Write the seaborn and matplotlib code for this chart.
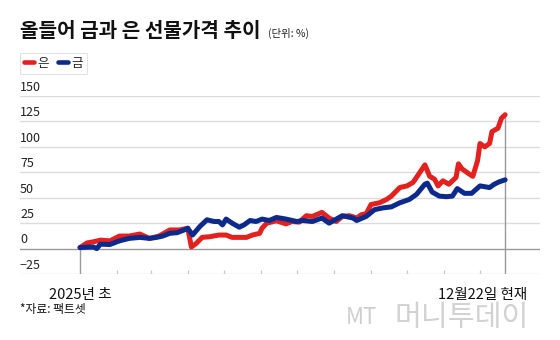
import pandas as pd
import matplotlib
matplotlib.use("Agg")
import matplotlib.pyplot as plt
import seaborn as sns

# ---- data (% change since start of 2025) ----
silver_dates = ["2025-01-01", "2025-01-07", "2025-01-12", "2025-01-18", "2025-01-26",
                "2025-02-03", "2025-02-11", "2025-02-20", "2025-02-28", "2025-03-08",
                "2025-03-17", "2025-03-25", "2025-04-01", "2025-04-04", "2025-04-08",
                "2025-04-13", "2025-04-19", "2025-04-27", "2025-05-03", "2025-05-08",
                "2025-05-14", "2025-05-20", "2025-05-25", "2025-05-31", "2025-06-02",
                "2025-06-06", "2025-06-14", "2025-06-22", "2025-06-27", "2025-07-03",
                "2025-07-09", "2025-07-14", "2025-07-22", "2025-07-28", "2025-08-03",
                "2025-08-08", "2025-08-14", "2025-08-20", "2025-08-24", "2025-08-28",
                "2025-09-01", "2025-09-08", "2025-09-14", "2025-09-18", "2025-09-25",
                "2025-10-01", "2025-10-06", "2025-10-09", "2025-10-16", "2025-10-20",
                "2025-10-24", "2025-10-27", "2025-10-31", "2025-11-05", "2025-11-11",
                "2025-11-13", "2025-11-16", "2025-11-22", "2025-11-25", "2025-11-29",
                "2025-12-01", "2025-12-05", "2025-12-09", "2025-12-11", "2025-12-16",
                "2025-12-19", "2025-12-22"]
silver_values = [1, 5.6, 6.6, 8.3, 7.6,
                 12.3, 12.3, 14.3, 10, 12.3,
                 18.3, 18.3, 20, 1.6, 5,
                 11, 11.6, 13.3, 13.3, 11,
                 11, 11, 13.3, 15, 20,
                 25, 27.3, 24.3, 26.6, 26,
                 32.3, 31.6, 35.6, 30, 26.6,
                 31.6, 32.3, 30, 33.3, 34.3,
                 43.3, 45, 48.3, 51.6, 60,
                 61.6, 65, 70, 82.3, 71,
                 68.3, 61.6, 66.6, 63.3, 70,
                 83.3, 78.3, 73.3, 71, 86.6,
                 103.3, 100, 103.3, 115, 118.3,
                 128.3, 131.6]

gold_dates = ["2025-01-01", "2025-01-12", "2025-01-15", "2025-01-18", "2025-01-26",
              "2025-02-03", "2025-02-11", "2025-02-20", "2025-02-28", "2025-03-06",
              "2025-03-11", "2025-03-17", "2025-03-23", "2025-03-29", "2025-04-01",
              "2025-04-05", "2025-04-11", "2025-04-17", "2025-04-23", "2025-04-27",
              "2025-04-30", "2025-05-03", "2025-05-08", "2025-05-14", "2025-05-18",
              "2025-05-23", "2025-05-28", "2025-06-02", "2025-06-08", "2025-06-14",
              "2025-06-22", "2025-07-01", "2025-07-06", "2025-07-14", "2025-07-22",
              "2025-07-28", "2025-08-08", "2025-08-17", "2025-08-20", "2025-08-28",
              "2025-09-04", "2025-09-11", "2025-09-18", "2025-09-25", "2025-10-03",
              "2025-10-09", "2025-10-16", "2025-10-18", "2025-10-22", "2025-10-28",
              "2025-11-03", "2025-11-08", "2025-11-12", "2025-11-18", "2025-11-24",
              "2025-12-01", "2025-12-09", "2025-12-13", "2025-12-17", "2025-12-22"]
gold_values = [1, 1.6, 0, 4.3, 4,
               7.6, 10, 11, 10, 11,
               12.3, 15, 15.6, 18.3, 20,
               13.3, 21.6, 28.3, 26.6, 26.6,
               23.3, 29, 25, 21, 23.3,
               27.6, 26.6, 29, 27.6, 30.6,
               29, 26.6, 27.6, 26.6, 30,
               25, 32.3, 30, 27.6, 31.6,
               38.3, 40, 41, 45, 48.3,
               53.3, 63.3, 64.3, 55.6, 51.6,
               51, 51.6, 59, 54.3, 54.3,
               61.6, 60, 63.3, 65.6, 67.6]

series_names = ["은", "금"]
series_colors = ["#e3211f", "#0c2a8c"]
y_ticks = [-25, 0, 25, 50, 75, 100, 125, 150]
y_tick_labels = ["\u221225", "0", "25", "50", "75", "100", "125", "150"]
x_labels = ["2025년 초", "12월22일 현재"]

title = "올들어 금과 은 선물가격 추이"
unit = "(단위: %)"
source = "*자료: 팩트셋"

# ---- build long table ----
df = pd.concat([
    pd.DataFrame({"date": pd.to_datetime(silver_dates), "value": silver_values, "series": series_names[0]}),
    pd.DataFrame({"date": pd.to_datetime(gold_dates), "value": gold_values, "series": series_names[1]}),
], ignore_index=True)

sns.set_theme(style="white")
plt.rcParams["font.family"] = ["Noto Sans CJK KR", "DejaVu Sans"]
plt.rcParams["axes.unicode_minus"] = True

W, H = 560, 340
fig = plt.figure(figsize=(W / 100, H / 100), dpi=100)
fig.patch.set_facecolor("white")
# plot area spans the full width of the gridlines
ax = fig.add_axes([20 / W, 1 - 274 / H, 520 / W, 178 / H])
ax.set_facecolor("white")

start = pd.Timestamp("2025-01-01")
end = pd.Timestamp("2025-12-22")
ax.set_xlim(start - pd.Timedelta(days=50.1), start + pd.Timedelta(days=384.1))
ax.set_ylim(-25, 150)

# gridlines
for v in y_ticks:
    ax.axhline(v, color="#999999" if v == 0 else "#dcdcdc", lw=1.0, zorder=1)

# month ticks along the bottom
month_starts = pd.date_range("2025-02-01", "2025-12-01", freq="MS")
ax.vlines(month_starts, -25, -21, color="#c8c8c8", lw=0.9, zorder=1)
ax.vlines([start], -25, 0, color="#999999", lw=1.0, zorder=1)
ax.vlines([end], -25, silver_values[-1], color="#999999", lw=1.0, zorder=1)

sns.lineplot(data=df, x="date", y="value", hue="series", hue_order=series_names,
             palette=series_colors, linewidth=3.6, legend=False, ax=ax, zorder=3,
             solid_capstyle="round", solid_joinstyle="round", estimator=None)

# y labels sit just above each gridline at the left edge
for v, lab in zip(y_ticks, y_tick_labels):
    ax.annotate(lab, xy=(0, v), xycoords=ax.get_yaxis_transform(),
                xytext=(0, 1.5), textcoords="offset points",
                ha="left", va="bottom", fontsize=9, color="#222222")

ax.set_xticks([])
ax.set_yticks([])
ax.set_xlabel("")
ax.set_ylabel("")
for s in ax.spines.values():
    s.set_visible(False)

# x labels below the plot
ax.annotate(x_labels[0], xy=(start, -25), xycoords="data", xytext=(0, -10),
            textcoords="offset points", ha="center", va="top", fontsize=10.5, color="#111111")
ax.annotate(x_labels[1], xy=(end, -25), xycoords="data", xytext=(-16, -10),
            textcoords="offset points", ha="center", va="top", fontsize=10.5, color="#111111")

# title and unit
fig.text(20 / W, 1 - 37 / H, title, fontsize=14.5, fontweight="bold",
         ha="left", va="baseline", color="#111111")
fig.text(268 / W, 1 - 37 / H, unit, fontsize=7.5, ha="left", va="baseline", color="#222222")

# legend
handles = [plt.Line2D([], [], color=c, lw=3.3) for c in series_colors]
leg = fig.legend(handles, series_names, loc="upper left",
                 bbox_to_anchor=(20 / W, 1 - 53 / H), ncol=2, fontsize=9,
                 frameon=True, fancybox=False, edgecolor="#dddddd",
                 handlelength=0.8, handletextpad=0.3, columnspacing=0.7,
                 borderpad=0.3, borderaxespad=0)
leg.get_frame().set_linewidth(0.8)

# source note
fig.text(20 / W, 1 - 310 / H, source, fontsize=8.5, ha="left", va="center", color="#111111")

# publisher mark
fig.text(346 / W, 1 - 318 / H, "MT", fontsize=16, style="italic", fontweight="light",
         ha="left", va="center", color="#cfcfcf")
fig.text(394 / W, 1 - 318 / H, "머니투데이", fontsize=21, fontweight="light",
         ha="left", va="center", color="#d2d2d2")

fig.savefig("out.png", dpi=100, facecolor="white")
